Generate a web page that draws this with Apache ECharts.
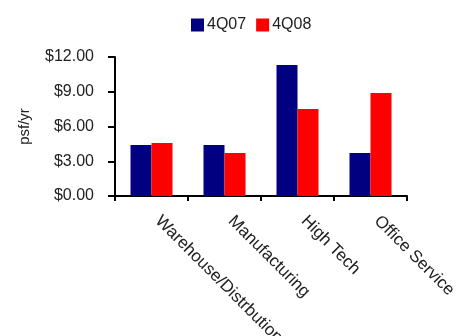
<!DOCTYPE html>
<html>
<head>
<meta charset="utf-8">
<script src="https://cdn.jsdelivr.net/npm/echarts@6/dist/echarts.min.js"></script>
<style>
  html, body { margin: 0; padding: 0; background: #fff; }
  #chart { width: 466px; height: 336px; }
</style>
</head>
<body>
<div id="chart"></div>
<script>
// Asking rent by property type, psf/yr
const categories = ['Warehouse/Distrbution', 'Manufacturing', 'High Tech', 'Office Service'];
const series4Q07 = [4.40, 4.40, 11.31, 3.71];
const series4Q08 = [4.58, 3.71, 7.51, 8.89];
const yTicks = { min: 0, max: 12, interval: 3 };

const FONT = 'Liberation Sans, Arial, sans-serif';
const chart = echarts.init(document.getElementById('chart'), null, { renderer: 'canvas' });

chart.setOption({
  animation: false,
  textStyle: { fontFamily: FONT, color: '#222' },
  legend: {
    left: 186,
    top: 12,
    itemWidth: 13,
    itemHeight: 13,
    itemGap: 10,
    icon: 'rect',
    textStyle: { fontSize: 16, color: '#222', fontFamily: FONT, padding: [0, 0, 0, -2] },
    data: ['4Q07', '4Q08']
  },
  grid: {
    left: 115, right: 59, top: 57, bottom: 140,
    containLabel: false,
    outerBoundsMode: 'none'
  },
  xAxis: {
    type: 'category',
    data: categories,
    axisLine: { lineStyle: { color: '#000', width: 2 } },
    axisTick: { show: true, length: 5, lineStyle: { color: '#000', width: 2 } },
    axisLabel: {
      rotate: -45,
      margin: 16,
      interval: 0,
      fontSize: 17,
      padding: [0, 0, 0, 9],
      color: '#222',
      fontFamily: FONT
    }
  },
  yAxis: {
    type: 'value',
    min: yTicks.min,
    max: yTicks.max,
    interval: yTicks.interval,
    name: 'psf/yr',
    nameLocation: 'middle',
    nameGap: 83,
    nameRotate: 90,
    nameTextStyle: { fontSize: 15, color: '#222', fontFamily: FONT },
    axisLine: { show: true, lineStyle: { color: '#000', width: 2 } },
    axisTick: { show: true, length: 7, lineStyle: { color: '#000', width: 2 } },
    splitLine: { show: false },
    axisLabel: {
      margin: 21,
      fontSize: 16,
      color: '#222',
      fontFamily: FONT,
      formatter: v => '$' + v.toFixed(2)
    }
  },
  series: [
    {
      name: '4Q07',
      type: 'bar',
      data: series4Q07,
      barWidth: 21,
      barGap: '0%',
      itemStyle: { color: '#000080' }
    },
    {
      name: '4Q08',
      type: 'bar',
      data: series4Q08,
      barWidth: 21,
      barGap: '0%',
      itemStyle: { color: '#FF0000' }
    }
  ]
});
</script>
</body>
</html>
